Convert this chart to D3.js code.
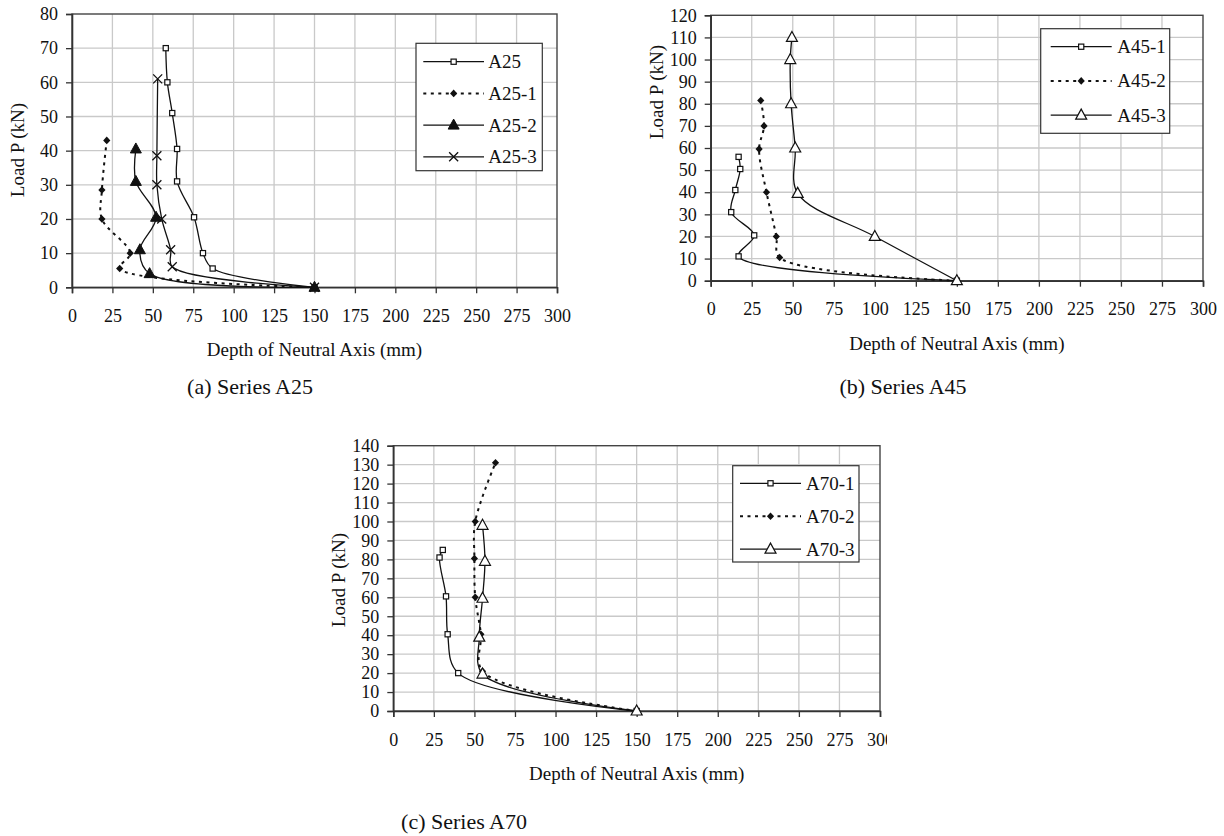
<!DOCTYPE html>
<html>
<head>
<meta charset="utf-8">
<script src="https://cdn.jsdelivr.net/npm/d3@7"></script>
<style>
  html, body { margin: 0; padding: 0; background: #fff; }
  svg { display: block; font-family: "Liberation Serif", "Times New Roman", serif; }
</style>
</head>
<body>
<svg id="chart" width="1224" height="836"></svg>
<script>
// Tick values
const depthTicks = [0, 25, 50, 75, 100, 125, 150, 175, 200, 225, 250, 275, 300];
const loadTicksA25 = [0, 10, 20, 30, 40, 50, 60, 70, 80];
const loadTicksA45 = [0, 10, 20, 30, 40, 50, 60, 70, 80, 90, 100, 110, 120];
const loadTicksA70 = [0, 10, 20, 30, 40, 50, 60, 70, 80, 90, 100, 110, 120, 130, 140];

// Measured [depth of neutral axis (mm), load P (kN)] pairs
const A25   = [[150, 0], [87, 5.5], [81, 10], [75.5, 20.5], [65, 31], [65, 40.5], [62, 51], [59, 60], [58, 70]];
const A25_1 = [[150, 0], [29.5, 5.5], [36, 10], [18.5, 20], [18.5, 28.5], [21.5, 43]];
const A25_2 = [[150, 0], [48, 4], [42, 11], [52, 20.5], [39.5, 31], [39.5, 40.5]];
const A25_3 = [[150, 0], [62, 6], [61, 11], [55.5, 20], [52.5, 30], [52.5, 38.5], [53, 61]];

const A45_1 = [[150, 0], [17, 11], [26.5, 20.5], [12.5, 31], [15, 41], [18, 50.5], [17, 56]];
const A45_2 = [[150, 0], [42, 10.5], [40, 20], [34, 40], [29.5, 59.5], [32.5, 70], [30.5, 81.5]];
const A45_3 = [[150, 0], [100, 20], [53, 39.5], [51.5, 60], [49, 80], [48.5, 100], [49.5, 110]];

const A70_1 = [[150, 0], [40, 20], [33.5, 40.5], [32.5, 60.5], [28.5, 81], [30.5, 85]];
const A70_2 = [[150, 0], [55, 21], [54, 40.5], [50.5, 60], [50, 80.5], [50.5, 100], [63, 131]];
const A70_3 = [[150, 0], [55, 19.5], [53, 39], [55, 59.5], [56.5, 79], [55, 98]];

// Series names as shown in the legends
const namesA25 = ["A25", "A25-1", "A25-2", "A25-3"];
const namesA45 = ["A45-1", "A45-2", "A45-3"];
const namesA70 = ["A70-1", "A70-2", "A70-3"];

const captions = ["(a) Series A25", "(b) Series A45", "(c) Series A70"];

// ---- drawing ----
const svg = d3.select("#chart");
svg.append("rect").attr("width", 1224).attr("height", 836).attr("fill", "#fff");

const INK = "#111";
const FONT = "Liberation Serif, Times New Roman, serif";
const dashFor = kind => (kind === "diamond" ? "3,4.5" : null);

function drawMarker(g, kind, x, y) {
  if (kind === "square") {
    g.append("rect").attr("x", x - 2.6).attr("y", y - 2.6).attr("width", 5.2).attr("height", 5.2)
      .attr("fill", "#fff").attr("stroke", INK).attr("stroke-width", 1.2);
  } else if (kind === "diamond") {
    g.append("path").attr("d", `M${x},${y - 3.8}L${x + 3.6},${y}L${x},${y + 3.8}L${x - 3.6},${y}Z`)
      .attr("fill", INK);
  } else if (kind === "tri") {
    g.append("path").attr("d", `M${x},${y - 6}L${x + 5.5},${y + 4}L${x - 5.5},${y + 4}Z`)
      .attr("fill", INK).attr("stroke", INK).attr("stroke-width", 1);
  } else if (kind === "cross") {
    g.append("path").attr("d", `M${x - 4.5},${y - 4.5}L${x + 4.5},${y + 4.5}M${x - 4.5},${y + 4.5}L${x + 4.5},${y - 4.5}`)
      .attr("stroke", INK).attr("stroke-width", 1.3).attr("fill", "none");
  } else if (kind === "triOpen") {
    g.append("path").attr("d", `M${x},${y - 6}L${x + 5.5},${y + 4}L${x - 5.5},${y + 4}Z`)
      .attr("fill", "#fff").attr("stroke", INK).attr("stroke-width", 1.2);
  }
}

function drawPanel(p) {
  const root = svg.append("g");
  if (p.clipRight) {
    const id = "clip-" + p.key;
    svg.append("defs").append("clipPath").attr("id", id)
      .append("rect").attr("x", 0).attr("y", 0).attr("width", p.clipRight).attr("height", 836);
    root.attr("clip-path", `url(#${id})`);
  }
  const x = d3.scaleLinear().domain([0, 300]).range([p.left, p.right]);
  const y = d3.scaleLinear().domain([0, p.yTicks[p.yTicks.length - 1]]).range([p.bottom, p.top]);

  // grid
  const grid = root.append("g").attr("stroke", "#c9c9c9").attr("stroke-width", 1.3);
  p.xTicks.slice(1, -1).forEach(t => grid.append("line")
    .attr("x1", x(t)).attr("x2", x(t)).attr("y1", p.top).attr("y2", p.bottom));
  p.yTicks.slice(1, -1).forEach(t => grid.append("line")
    .attr("x1", p.left).attr("x2", p.right).attr("y1", y(t)).attr("y2", y(t)));

  // frame
  root.append("rect").attr("x", p.left).attr("y", p.top)
    .attr("width", p.right - p.left).attr("height", p.bottom - p.top)
    .attr("fill", "none").attr("stroke", "#444").attr("stroke-width", 1.4);

  // axes
  const xAxis = d3.axisBottom(x).tickValues(p.xTicks).tickSize(6).tickPadding(16).tickFormat(d3.format("d"));
  const yAxis = d3.axisLeft(y).tickValues(p.yTicks).tickSize(6).tickPadding(8).tickFormat(d3.format("d"));
  const gx = root.append("g").attr("transform", `translate(0,${p.bottom})`).call(xAxis);
  const gy = root.append("g").attr("transform", `translate(${p.left},0)`).call(yAxis);
  [gx, gy].forEach(g => {
    g.attr("font-family", FONT);
    g.select(".domain").attr("stroke", "#333").attr("stroke-width", 1.6);
    g.selectAll(".tick line").attr("stroke", "#333").attr("stroke-width", 1.3);
    g.selectAll(".tick text").attr("fill", "#111").attr("font-size", 18);
  });

  // axis titles
  root.append("text").attr("x", (p.left + p.right) / 2).attr("y", p.bottom + 69)
    .attr("text-anchor", "middle").attr("font-size", 19).attr("fill", "#111")
    .text("Depth of Neutral Axis (mm)");
  root.append("text").attr("transform", `translate(${p.left - 48},${p.yTitleY}) rotate(-90)`)
    .attr("text-anchor", "middle").attr("font-size", 19).attr("fill", "#111")
    .text("Load P (kN)");

  // series
  const line = d3.line().x(d => x(d[0])).y(d => y(d[1])).curve(d3.curveCatmullRom.alpha(0.5));
  const plot = root.append("g");
  p.series.forEach(s => {
    plot.append("path").attr("d", line(s.data)).attr("fill", "none")
      .attr("stroke", INK).attr("stroke-width", s.marker === "diamond" ? 2 : 1.3)
      .attr("stroke-dasharray", dashFor(s.marker));
  });
  p.series.forEach(s => {
    s.data.forEach(d => drawMarker(plot, s.marker, x(d[0]), y(d[1])));
  });

  // legend
  const L = p.legend;
  const lg = root.append("g");
  lg.append("rect").attr("x", L.x).attr("y", L.y).attr("width", L.w).attr("height", L.h)
    .attr("fill", "#fff").attr("stroke", "#333").attr("stroke-width", 1.2);
  p.series.forEach((s, i) => {
    const cy = L.row0 + i * L.step;
    lg.append("line").attr("x1", L.lx0).attr("x2", L.lx1).attr("y1", cy).attr("y2", cy)
      .attr("stroke", INK).attr("stroke-width", s.marker === "diamond" ? 2 : 1.3)
      .attr("stroke-dasharray", dashFor(s.marker));
    drawMarker(lg, s.marker, (L.lx0 + L.lx1) / 2, cy);
    lg.append("text").attr("x", L.tx).attr("y", cy + 6.5).attr("font-size", 19).attr("fill", "#111")
      .text(s.name);
  });

  // caption
  svg.append("text").attr("x", p.capX).attr("y", p.capY).attr("text-anchor", "middle")
    .attr("font-size", 22).attr("fill", "#111").text(p.caption);
}

const panels = [
  {
    key: "a", left: 72, right: 557, top: 14, bottom: 287.3,
    xTicks: depthTicks, yTicks: loadTicksA25, yTitleY: 150,
    series: [
      { name: namesA25[0], data: A25,   marker: "square" },
      { name: namesA25[1], data: A25_1, marker: "diamond" },
      { name: namesA25[2], data: A25_2, marker: "tri" },
      { name: namesA25[3], data: A25_3, marker: "cross" }
    ],
    legend: { x: 416, y: 43.3, w: 126.3, h: 127.4, row0: 61.7, step: 31.7, lx0: 423.3, lx1: 484, tx: 488.3 },
    caption: captions[0], capX: 250, capY: 394
  },
  {
    key: "b", left: 710.7, right: 1203, top: 15.3, bottom: 280.7,
    xTicks: depthTicks, yTicks: loadTicksA45, yTitleY: 92,
    series: [
      { name: namesA45[0], data: A45_1, marker: "square" },
      { name: namesA45[1], data: A45_2, marker: "diamond" },
      { name: namesA45[2], data: A45_3, marker: "triOpen" }
    ],
    legend: { x: 1040.7, y: 28.7, w: 129, h: 104.6, row0: 46.7, step: 34.2, lx0: 1050.7, lx1: 1111.7, tx: 1117.3 },
    caption: captions[1], capX: 903, capY: 394
  },
  {
    key: "c", left: 393.3, right: 880, top: 445.7, bottom: 711, clipRight: 887,
    xTicks: depthTicks, yTicks: loadTicksA70, yTitleY: 580,
    series: [
      { name: namesA70[0], data: A70_1, marker: "square" },
      { name: namesA70[1], data: A70_2, marker: "diamond" },
      { name: namesA70[2], data: A70_3, marker: "triOpen" }
    ],
    legend: { x: 732.7, y: 465.7, w: 126.3, h: 96.3, row0: 483.3, step: 32.9, lx0: 740, lx1: 801, tx: 806 },
    caption: captions[2], capX: 464, capY: 829
  }
];

panels.forEach(drawPanel);
</script>
</body>
</html>
